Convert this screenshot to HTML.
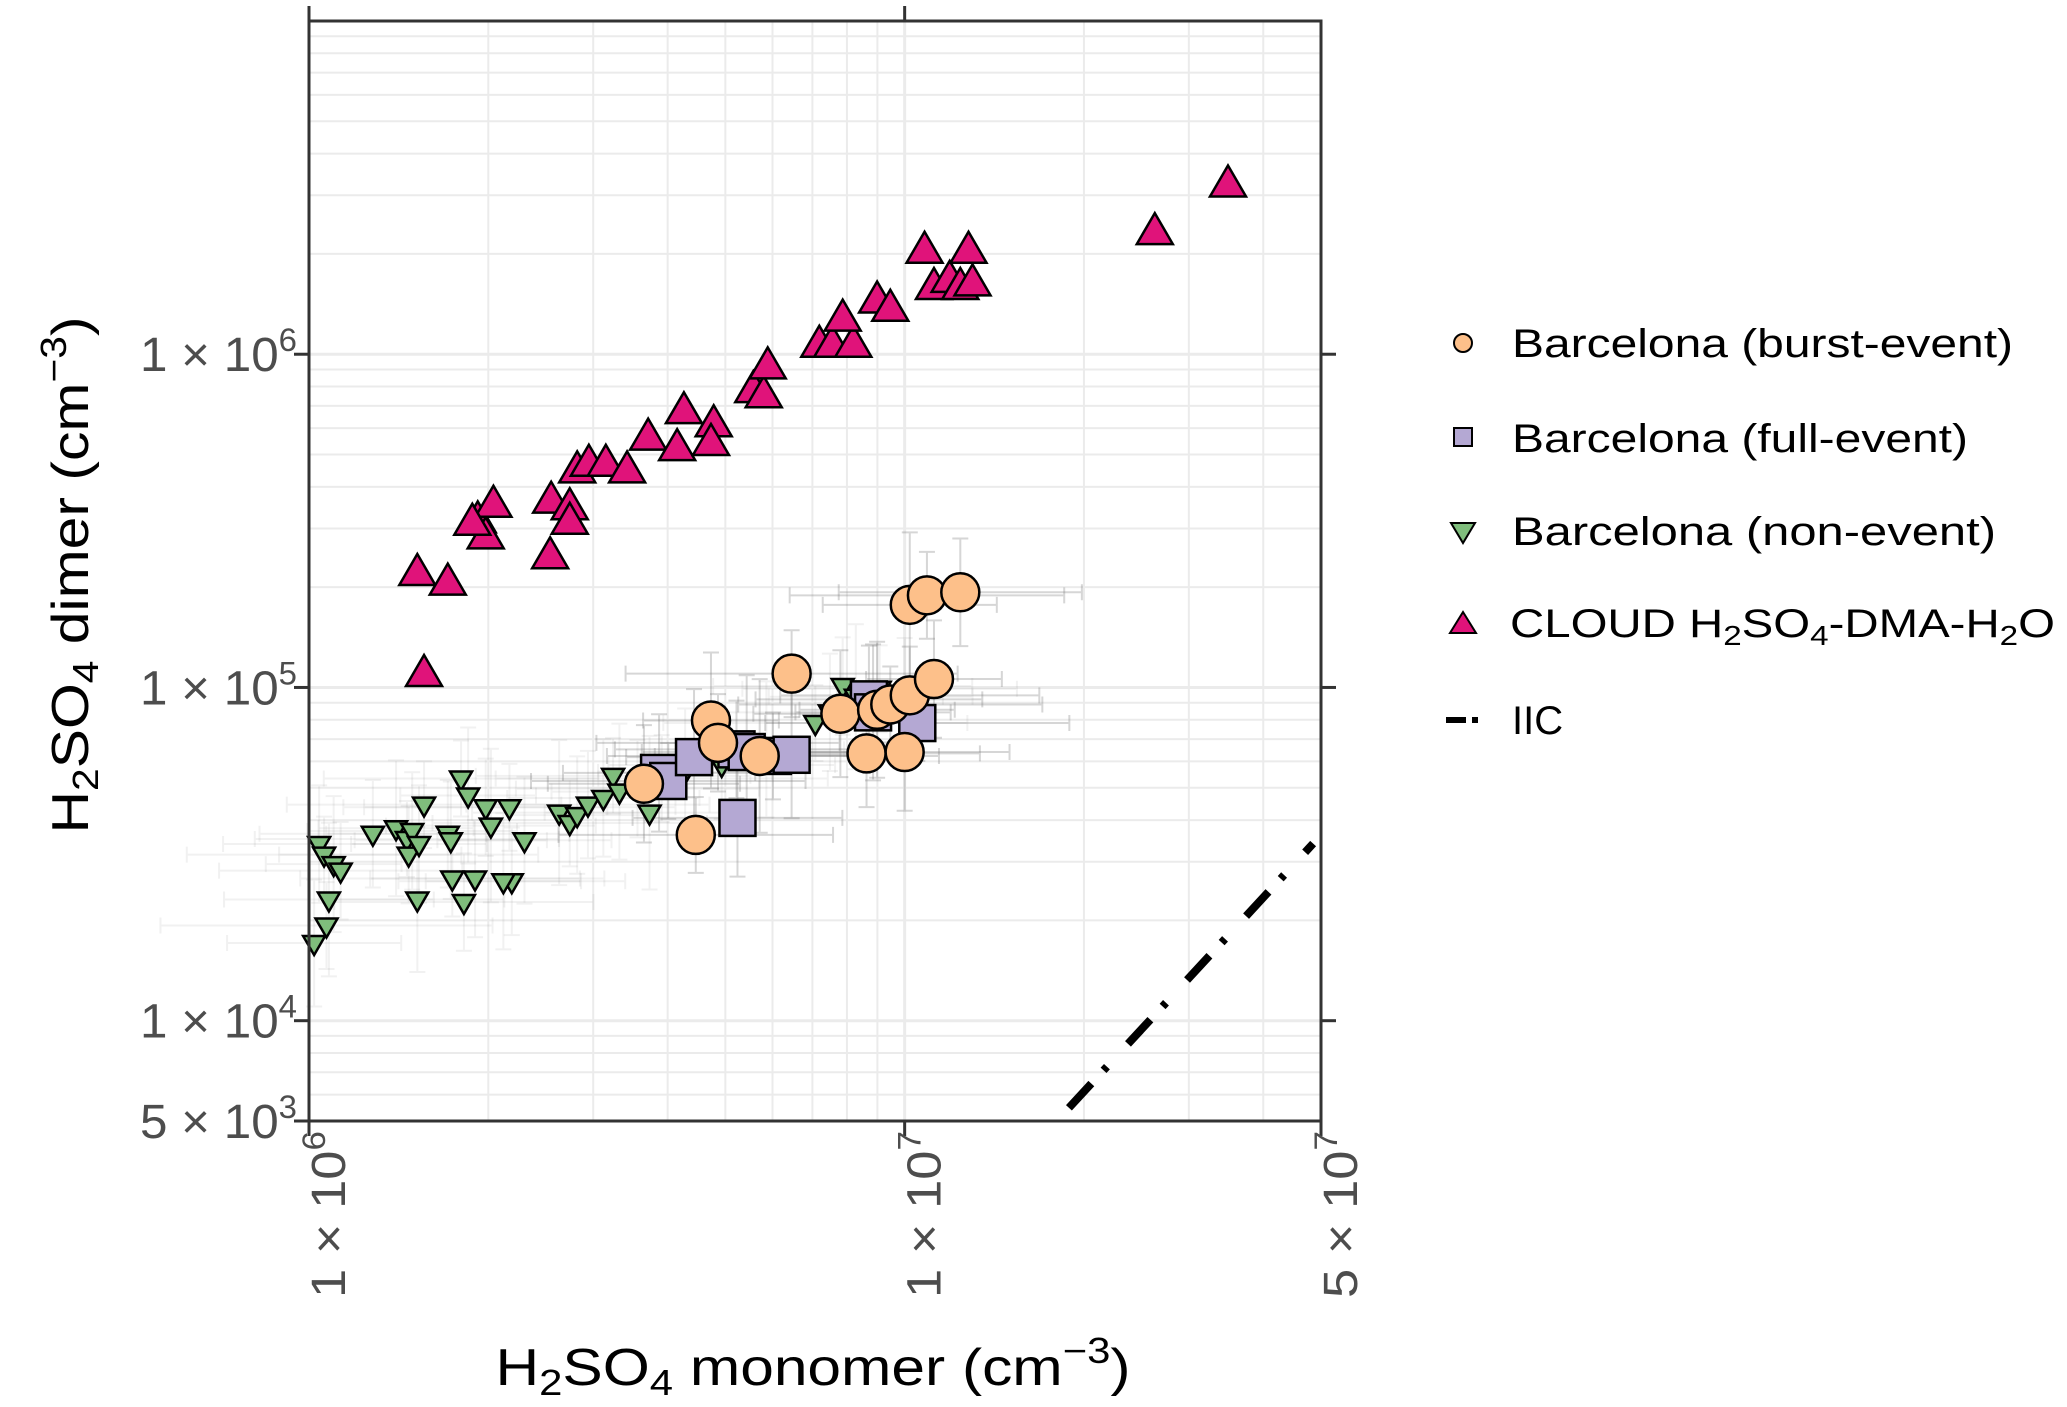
<!DOCTYPE html>
<html><head><meta charset="utf-8"><style>
html,body{margin:0;padding:0;background:#fff}
svg{display:block}
text{font-family:"Liberation Sans",Arial,sans-serif}
</style></head><body>
<svg id="chart" width="2067" height="1407" viewBox="0 0 2067 1407" xmlns="http://www.w3.org/2000/svg">
<rect width="2067" height="1407" fill="#fff"/>
<g id="grid"></g>
<g id="errs"></g>
<g id="iic"></g>
<g id="marks"></g>
<g id="axes"></g>
<text transform="translate(88,575) rotate(-90)" text-anchor="middle" font-size="52" fill="#000" textLength="517" lengthAdjust="spacingAndGlyphs">H<tspan font-size="36" dy="10">2</tspan><tspan dy="-10">SO</tspan><tspan font-size="36" dy="10">4</tspan><tspan dy="-10"> dimer (cm</tspan><tspan font-size="36" dy="-22">−3</tspan><tspan dy="22">)</tspan></text>
<text x="813" y="1385" text-anchor="middle" font-size="52" fill="#000" textLength="635" lengthAdjust="spacingAndGlyphs">H<tspan font-size="36" dy="10">2</tspan><tspan dy="-10">SO</tspan><tspan font-size="36" dy="10">4</tspan><tspan dy="-10"> monomer (cm</tspan><tspan font-size="36" dy="-22">−3</tspan><tspan dy="22">)</tspan></text>
<g id="legend">
 <g>
  <circle cx="1463" cy="343" r="9" fill="#fdc08a" stroke="#000" stroke-width="2"/>
  <text x="1512" y="357" font-size="40" textLength="501" lengthAdjust="spacingAndGlyphs">Barcelona (burst-event)</text></g>
 <g>
  <rect x="1454" y="428" width="18" height="18" fill="#b4a8d3" stroke="#000" stroke-width="2"/>
  <text x="1512" y="452" font-size="40" textLength="456" lengthAdjust="spacingAndGlyphs">Barcelona (full-event)</text></g>
 <g>
  <polygon points="1451,523 1475,523 1463,543" fill="#7fbd7c" stroke="#000" stroke-width="2"/>
  <text x="1512" y="545" font-size="40" textLength="484" lengthAdjust="spacingAndGlyphs">Barcelona (non-event)</text></g>
 <g>
  <polygon points="1450,633 1476,633 1463,612" fill="#e0137a" stroke="#000" stroke-width="2"/>
  <text x="1510" y="637" font-size="40" textLength="545" lengthAdjust="spacingAndGlyphs">CLOUD H<tspan font-size="28" dy="8">2</tspan><tspan dy="-8">SO</tspan><tspan font-size="28" dy="8">4</tspan><tspan dy="-8">-DMA-H</tspan><tspan font-size="28" dy="8">2</tspan><tspan dy="-8">O</tspan></text></g>
 <g>
  <line x1="1446" y1="720" x2="1466" y2="720" stroke="#000" stroke-width="6"/>
  <line x1="1472" y1="720" x2="1478" y2="720" stroke="#000" stroke-width="6"/>
  <text x="1512" y="734" font-size="40">IIC</text></g>
</g>
</svg>
<script>
const xDomain=[1e6,5e7];
const yDomain=[5e3,1e7];
const xTickVals=[1e6,1e7,5e7];
const xTickMant=["1","1","5"];
const xTickExp=["6","7","7"];
const yTickVals=[5e3,1e4,1e5,1e6];
const yTickMant=["5","1","1","1"];
const yTickExp=["3","4","5","6"];

const cloudX=[1.52e6,1.71e6,1.56e6,1.92e6,1.98e6,2.04e6,2.54e6,2.55e6,2.74e6,2.74e6,2.82e6,2.95e6,3.15e6,3.42e6,3.71e6,4.15e6,4.26e6,4.78e6,4.73e6,5.57e6,5.80e6,5.89e6,7.19e6,7.56e6,8.20e6,7.87e6,8.99e6,9.46e6,1.08e7,1.12e7,1.19e7,1.24e7,1.28e7,1.30e7,2.63e7,3.49e7,1.88e6];
const cloudY=[2.19e5,2.05e5,1.09e5,3.15e5,2.82e5,3.51e5,2.46e5,3.61e5,3.45e5,3.12e5,4.45e5,4.66e5,4.66e5,4.45e5,5.58e5,5.19e5,6.70e5,6.12e5,5.38e5,7.75e5,7.48e5,9.13e5,1.06e6,1.06e6,1.06e6,1.27e6,1.44e6,1.36e6,2.03e6,1.58e6,1.66e6,1.58e6,2.03e6,1.62e6,2.31e6,3.21e6,3.10e5];
const burstX=[3.65e6,4.46e6,4.73e6,4.86e6,5.71e6,6.46e6,7.80e6,8.63e6,8.99e6,9.46e6,1.00e7,1.02e7,1.02e7,1.09e7,1.12e7,1.24e7];
const burstY=[5.14e4,3.61e4,7.96e4,6.82e4,6.23e4,1.10e5,8.34e4,6.34e4,8.57e4,8.89e4,6.40e4,9.47e4,1.77e5,1.89e5,1.06e5,1.93e5];
const fullX=[3.87e6,4.01e6,4.43e6,5.22e6,5.43e6,6.01e6,6.46e6,8.71e6,8.85e6,1.05e7,5.24e6];
const fullY=[5.54e4,5.24e4,6.18e4,6.52e4,6.40e4,6.23e4,6.28e4,9.21e4,8.42e4,7.82e4,4.06e4];
const nonX=[1.04e6,1.06e6,1.10e6,1.13e6,1.08e6,1.07e6,1.02e6,1.28e6,1.40e6,1.46e6,1.49e6,1.47e6,1.52e6,1.56e6,1.53e6,1.71e6,1.73e6,1.80e6,1.85e6,1.98e6,2.02e6,2.17e6,2.30e6,2.19e6,2.12e6,1.74e6,1.90e6,1.82e6,2.63e6,2.74e6,2.82e6,2.94e6,3.12e6,3.24e6,3.32e6,3.56e6,3.73e6,3.91e6,4.28e6,4.93e6,5.86e6,7.08e6,7.49e6,7.87e6,8.28e6,9.08e6,1.00e7];
const nonY=[3.39e4,3.15e4,2.95e4,2.82e4,2.31e4,1.93e4,1.71e4,3.64e4,3.78e4,3.51e4,3.71e4,3.15e4,2.31e4,4.45e4,3.39e4,3.64e4,3.48e4,5.33e4,4.74e4,4.37e4,3.85e4,4.37e4,3.48e4,2.62e4,2.62e4,2.67e4,2.67e4,2.27e4,4.21e4,3.92e4,4.14e4,4.45e4,4.66e4,5.43e4,4.87e4,4.97e4,4.21e4,5.33e4,5.58e4,5.85e4,6.52e4,7.82e4,8.42e4,1.01e5,9.38e4,9.91e4,9.38e4];
const iicX=[1.80e7,4.85e7];
const iicY=[5.0e3,3.4e4];
const errFactorX=[1.45,1.7,1.3,1.6,1.5,1.9,1.4,1.55,1.35,1.8,1.5,1.65,1.4,1.7,1.3,1.6];
const errFactorY=[1.5,1.3,1.6,1.4,1.7,1.35,1.55,1.45,1.6,1.3,1.5,1.4,1.65,1.35,1.5,1.45];

const L=309,R=1321,T=21,B=1121;
const NS="http://www.w3.org/2000/svg";
function sx(v){return L+(Math.log10(v)-Math.log10(xDomain[0]))/(Math.log10(xDomain[1])-Math.log10(xDomain[0]))*(R-L);}
function sy(v){return B-(Math.log10(v)-Math.log10(yDomain[0]))/(Math.log10(yDomain[1])-Math.log10(yDomain[0]))*(B-T);}
function mk(tag,attrs,parent){const e=document.createElementNS(NS,tag);for(const k in attrs)e.setAttribute(k,attrs[k]);parent.appendChild(e);return e;}

const grid=document.getElementById('grid');
for(let d=6;d<=7;d++)for(let m=1;m<=9;m++){const v=m*Math.pow(10,d);if(v<xDomain[0]||v>xDomain[1])continue;const x=sx(v);
 const g=mk('line',{x1:x,x2:x,y1:T,y2:B,stroke:'#ebebeb','stroke-width':m===1?3:2},grid);
 
 }
for(let d=3;d<=6;d++)for(let m=1;m<=9;m++){const v=m*Math.pow(10,d);if(v<yDomain[0]||v>=yDomain[1])continue;const y=sy(v);
 const g=mk('line',{x1:L,x2:R,y1:y,y2:y,stroke:'#ebebeb','stroke-width':m===1?3:2},grid);
 
 }

const errs=document.getElementById('errs');
function errBars(X,Y,op){for(let i=0;i<X.length;i++){const fx=errFactorX[i%errFactorX.length],fy=errFactorY[i%errFactorY.length];
 const x=sx(X[i]),y=sy(Y[i]);
 const a=mk('path',{d:`M${sx(X[i]/fx)},${y}H${sx(X[i]*fx)}M${sx(X[i]/fx)},${y-8}v16M${sx(X[i]*fx)},${y-8}v16M${x},${sy(Y[i]/fy)}V${sy(Y[i]*fy)}M${x-8},${sy(Y[i]/fy)}h16M${x-8},${sy(Y[i]*fy)}h16`,stroke:'#777',fill:'none','stroke-width':2,opacity:op},errs);
 
 }}
errBars(burstX,burstY,0.3);errBars(fullX,fullY,0.3);errBars(nonX,nonY,0.1);

const iic=document.getElementById('iic');
const il=mk('line',{x1:sx(iicX[0]),y1:sy(iicY[0]),x2:sx(iicX[1]),y2:sy(iicY[1]),stroke:'#000','stroke-width':8,'stroke-dasharray':'0 18 33 18 5 13'},iic);



const marks=document.getElementById('marks');
for(let i=0;i<nonX.length;i++){const x=sx(nonX[i]),y=sy(nonY[i]);
 const p=mk('polygon',{points:`${x-11},${y-7} ${x+11},${y-7} ${x},${y+12}`,fill:'#7fbd7c',stroke:'#000','stroke-width':2.5},marks);
 
 }
for(let i=0;i<fullX.length;i++){const x=sx(fullX[i]),y=sy(fullY[i]);
 const p=mk('rect',{x:x-18,y:y-18,width:36,height:36,fill:'#b4a8d3',stroke:'#000','stroke-width':2.5},marks);
 
 }
for(let i=0;i<burstX.length;i++){
 const p=mk('circle',{cx:sx(burstX[i]),cy:sy(burstY[i]),r:19,fill:'#fdc08a',stroke:'#000','stroke-width':2.5},marks);
 
 }
for(let i=0;i<cloudX.length;i++){const x=sx(cloudX[i]),y=sy(cloudY[i]);
 const p=mk('polygon',{points:`${x-18},${y+11} ${x+18},${y+11} ${x},${y-20}`,fill:'#e0137a',stroke:'#000','stroke-width':2.5},marks);
 
 }

const axes=document.getElementById('axes');
const fr=mk('rect',{x:L,y:T,width:R-L,height:B-T,fill:'none',stroke:'#333','stroke-width':3},axes);


for(let i=0;i<xTickVals.length;i++){const x=sx(xTickVals[i]);
 const t=mk('line',{x1:x,x2:x,y1:B,y2:B+15,stroke:'#333','stroke-width':3},axes);
 
 
 if(xTickVals[i]<=1e7){const t2=mk('line',{x1:x,x2:x,y1:T,y2:T-15,stroke:'#333','stroke-width':3},axes);
 
 }
 const lb=mk('text',{transform:`translate(${x+36},1131) rotate(-90)`,'text-anchor':'end','font-size':48,fill:'#4d4d4d',textLength:167,lengthAdjust:'spacingAndGlyphs'},axes);
 
 
 lb.innerHTML=`${xTickMant[i]} × 10<tspan font-size="32" dy="-20">${xTickExp[i]}</tspan>`;}
for(let i=0;i<yTickVals.length;i++){const y=sy(yTickVals[i]);
 const t=mk('line',{x1:L-15,x2:L,y1:y,y2:y,stroke:'#333','stroke-width':3},axes);
 
 
 if(yTickVals[i]>=1e4){const t2=mk('line',{x1:R,x2:R+15,y1:y,y2:y,stroke:'#333','stroke-width':3},axes);
 
 }
 const lb=mk('text',{x:140,y:y+17,'font-size':48,fill:'#4d4d4d',textLength:157,lengthAdjust:'spacingAndGlyphs'},axes);
 
 
 lb.innerHTML=`${yTickMant[i]} × 10<tspan font-size="32" dy="-20">${yTickExp[i]}</tspan>`;}
</script>
</body></html>
